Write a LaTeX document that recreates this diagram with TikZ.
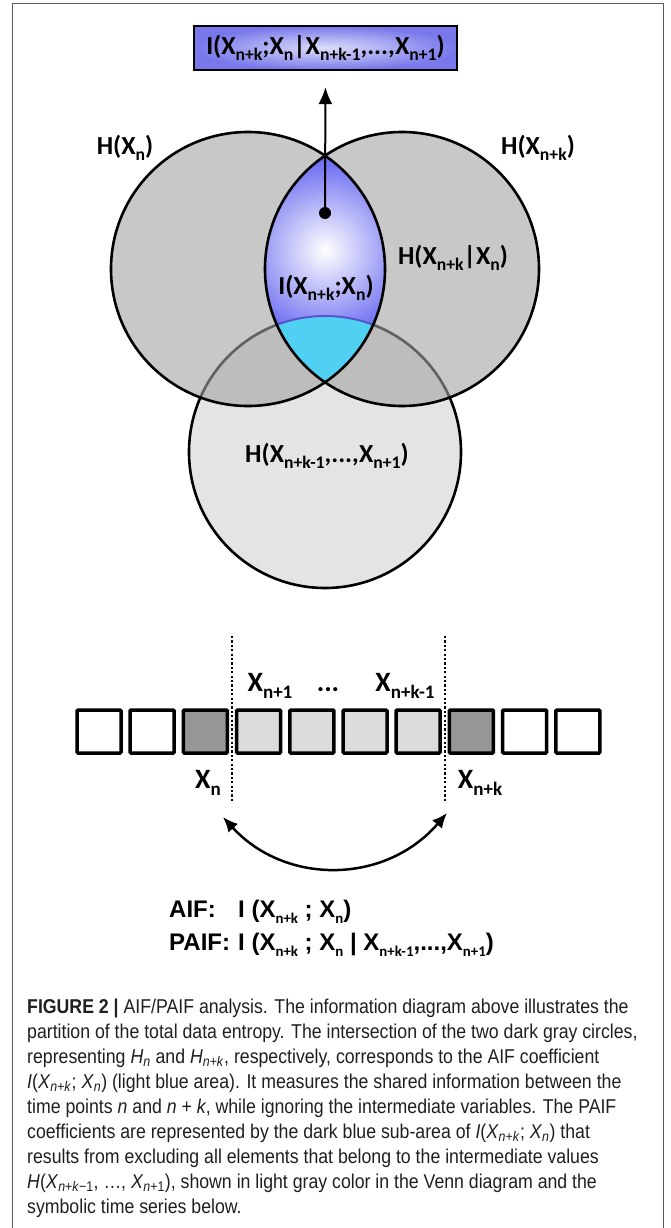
\documentclass[tikz,border=0pt]{standalone}
\usepackage{fontspec}
\setmainfont{Carlito}
\newfontfamily\arialfont{Liberation Sans}
\newfontfamily\capfont[FakeStretch=0.885]{Liberation Sans}
\usetikzlibrary{arrows.meta, positioning}

\definecolor{dkgray}{RGB}{163,163,163}
\definecolor{ltgray}{RGB}{228,228,228}
\definecolor{lensblue}{RGB}{100,100,240}
\definecolor{cyanarea}{RGB}{80,208,242}
\definecolor{boxblue}{RGB}{120,120,235}
\definecolor{sqdark}{RGB}{150,150,150}
\definecolor{sqlight}{RGB}{220,220,220}
\definecolor{framegray}{RGB}{90,90,90}

\newcommand{\lo}[1]{\raisebox{-0.25em}{\scalebox{0.68}{#1}}}
\newcommand{\losub}[1]{\raisebox{-0.28em}{\scalebox{0.62}{\normalfont\bfseries #1}}}
\newcommand{\itX}[1]{\textit{X}\textsubscript{#1}}

\begin{document}
\begin{tikzpicture}[x=1pt, y=-1pt,
    venn/.style={font=\fontsize{26}{30}\selectfont\bfseries, inner sep=0pt, anchor=base},
    serieslabel/.style={font=\fontsize{28}{32}\selectfont\bfseries, inner sep=0pt, anchor=base},
    cell/.style={draw, line width=3.5pt, minimum width=44pt, minimum height=43pt, inner sep=0pt, rounded corners=1pt},
    topbox/.style={draw, line width=2.2pt, inner color=boxblue!25!white, outer color=boxblue, minimum width=263pt, minimum height=44pt, font=\fontsize{26}{30}\selectfont\bfseries},
    formula/.style={font=\arialfont\fontsize{24}{28}\selectfont\bfseries, inner sep=0pt, anchor=base west},
    capline/.style={font=\capfont\fontsize{20}{25}\selectfont, text=black!88, inner sep=0pt, anchor=base west},
    arrow/.style={line width=2pt, -{Latex[length=17pt, width=14pt]}},
    sep/.style={line width=2.6pt, dash pattern=on 2.2pt off 2.2pt}
  ]
  \useasboundingbox (0,0) rectangle (670,1228);
  % frame
  \draw[framegray, line width=1pt] (12,1230) -- (12,4) -- (663,4) -- (663,1230);

  % venn diagram
  \coordinate (cL) at (248,269);
  \coordinate (cR) at (402,269);
  \coordinate (cB) at (325,452);
  \fill[ltgray] (cB) circle (136);
  \draw[line width=2.6pt] (cB) circle (136);
  \fill[dkgray, fill opacity=0.6] (cL) circle (137);
  \fill[dkgray, fill opacity=0.6] (cR) circle (137);
  \begin{scope}
    \clip (cL) circle (137);
    \clip (cR) circle (137);
    \fill[lensblue] (250,140) rectangle (400,400);
    \shade[inner color=white, outer color=lensblue] (325,250) circle (95);
    \fill[cyanarea] (cB) circle (136);
    \draw[lensblue!85!black, line width=2pt] (cB) circle (136);
  \end{scope}
  \draw[line width=2.6pt] (cL) circle (137);
  \draw[line width=2.6pt] (cR) circle (137);

  \node[topbox] (box) at (325.5,48) {I(X\lo{n+k};X\lo{n}|X\lo{n+k-1},...,X\lo{n+1})};
  \node[fill, circle, inner sep=0pt, minimum size=12pt] (dot) at (325,213) {};
  \draw[arrow, shorten >=16pt] (dot.center) -- (box.south);

  \node[venn] (hn) at (125,154) {H(X\lo{n})};
  \node[venn] (hnk) at (538,154) {H(X\lo{n+k})};
  \node[venn] (hcond) at (453,264) {H(X\lo{n+k}|X\lo{n})};
  \node[venn] (info) at (326,294) {I(X\lo{n+k};X\lo{n})};
  \node[venn] (hmid) at (327,462) {H(X\lo{n+k-1},...,X\lo{n+1})};

  % symbolic time series
  \foreach \col [count=\i] in {white,white,sqdark,sqlight,sqlight,sqlight,sqlight,sqdark,white,white}
    \node[cell, fill=\col] (s\i) at ({99+53.2*(\i-1)},731.5) {};

  \coordinate (ltop) at (232,636);
  \coordinate (lbot) at (232,802);
  \coordinate (rtop) at (445,636);
  \coordinate (rbot) at (445,802);
  \draw[sep] (ltop) -- (lbot);
  \draw[sep] (rtop) -- (rbot);

  \node[serieslabel] (xn1) at (270,691) {X\lo{n+1}};
  \node[serieslabel] (dots) at (328,691) {...};
  \node[serieslabel] (xnk1) at (405,691) {X\lo{n+k-1}};
  \node[serieslabel] (xn) at (208,788) {X\lo{n}};
  \node[serieslabel] (xnk) at (480,788) {X\lo{n+k}};

  \coordinate (al) at (223,817);
  \coordinate (ar) at (447,813);
  \draw[line width=2.5pt, {Latex[length=15pt,width=13pt]}-{Latex[length=15pt,width=13pt]}] (al) .. controls (285,885) and (385,885) .. (ar);

  \node[formula] (aif) at (169,917) {\makebox[69pt][l]{AIF:}I (X\losub{n+k} ; X\losub{n})};
  \node[formula] (paif) at (169,950) {\makebox[69pt][l]{PAIF:}I (X\losub{n+k} ; X\losub{n} | X\losub{n+k-1},...,X\losub{n+1})};

  % caption
  \foreach \txt [count=\i from 0] in {
    {\textbf{FIGURE 2 |} AIF/PAIF analysis. The information diagram above illustrates the},
    {partition of the total data entropy. The intersection of the two dark gray circles,},
    {representing \textit{H}\textsubscript{\textit{n}} and \textit{H}\textsubscript{\textit{n}+\textit{k}}, respectively, corresponds to the AIF coefficient},
    {\textit{I}(\itX{\textit{n}+\textit{k}}; \itX{\textit{n}}) (light blue area). It measures the shared information between the},
    {time points \textit{n} and \textit{n} + \textit{k}, while ignoring the intermediate variables. The PAIF},
    {coefficients are represented by the dark blue sub-area of \textit{I}(\itX{\textit{n}+\textit{k}}; \itX{\textit{n}}) that},
    {results from excluding all elements that belong to the intermediate values},
    {\textit{H}(\itX{\textit{n}+\textit{k}−1}, \ldots, \itX{\textit{n}+1}), shown in light gray color in the Venn diagram and the},
    {symbolic time series below.}}
    \node[capline] (cap\i) at (27,{1013+25*\i}) {\txt};
\end{tikzpicture}
\end{document}
